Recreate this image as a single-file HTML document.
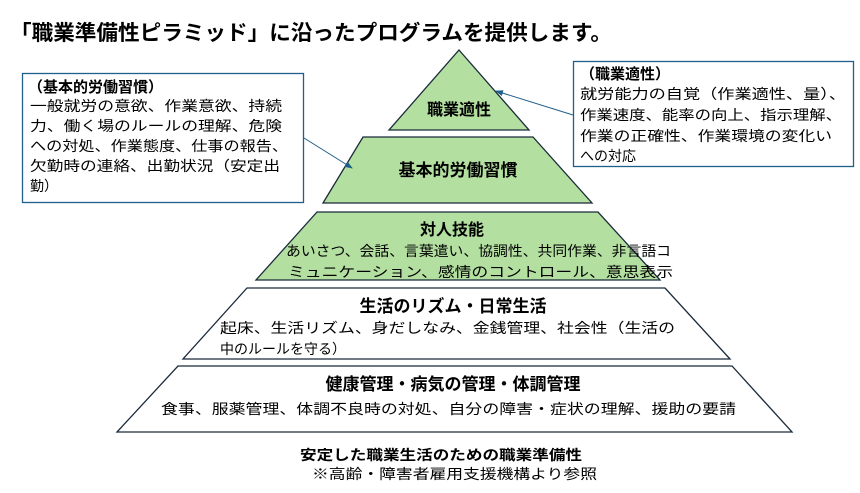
<!DOCTYPE html>
<html><head><meta charset="utf-8"><style>
body{margin:0;background:#fff;width:860px;height:488px;overflow:hidden}
svg text{font-family:"Liberation Sans","Noto Sans CJK JP",sans-serif;fill:#000}
.b{font-weight:bold}
</style></head><body>
<svg width="860" height="488" viewBox="0 0 860 488" xmlns="http://www.w3.org/2000/svg">
<defs><marker id="a" markerWidth="8" markerHeight="8" refX="7" refY="4" orient="auto" markerUnits="userSpaceOnUse"><path d="M0,1 L8,4 L0,7 z" fill="#1f5f8b"/></marker></defs>
<text x="10" y="40" font-size="21" class="b" textLength="602" lengthAdjust="spacingAndGlyphs">「職業準備性ピラミッド」に沿ったプログラムを提供します。</text>

<g stroke="#1a2a3a" stroke-width="1.3">
<polygon points="459,50 529,130 389,130" fill="#b3e0a0"/>
<polygon points="363,137 533,137 592,203 323,203" fill="#b3e0a0"/>
<polygon points="317,212 598,212 660,280 256,280" fill="#b3e0a0"/>
<polygon points="247,288 665,288 730,359 183,359" fill="#fff"/>
<polygon points="178,366 732,366 792,432 117,432" fill="#fff"/>
</g>
<text x="459" y="115" font-size="16" class="b" text-anchor="middle">職業適性</text>
<text x="458" y="176" font-size="17" class="b" text-anchor="middle">基本的労働習慣</text>
<text x="452" y="235" font-size="16" class="b" text-anchor="middle">対人技能</text>
<text x="286" y="256" font-size="14" textLength="385" lengthAdjust="spacingAndGlyphs">あいさつ、会話、言葉遣い、協調性、共同作業、非言語コ</text>
<text x="288" y="277" font-size="14" textLength="385" lengthAdjust="spacingAndGlyphs">ミュニケーション、感情のコントロール、意思表示</text>
<text x="453" y="312" font-size="17" class="b" text-anchor="middle">生活のリズム・日常生活</text>
<text x="220" y="333" font-size="14" textLength="455" lengthAdjust="spacingAndGlyphs">起床、生活リズム、身だしなみ、金銭管理、社会性（生活の</text>
<text x="220" y="354" font-size="14">中のルールを守る）</text>
<text x="453" y="390" font-size="17" class="b" text-anchor="middle">健康管理・病気の管理・体調管理</text>
<text x="161" y="414" font-size="14" textLength="575" lengthAdjust="spacingAndGlyphs">食事、服薬管理、体調不良時の対処、自分の障害・症状の理解、援助の要請</text>

<rect x="22.5" y="73.5" width="281" height="129" fill="#fff" stroke="#1f5f8b" stroke-width="1.3"/>
<text x="28" y="92" font-size="15" class="b">（基本的労働習慣）</text>
<text x="30" y="111" font-size="14" textLength="252" lengthAdjust="spacingAndGlyphs">一般就労の意欲、作業意欲、持続</text>
<text x="30" y="131" font-size="14" textLength="252" lengthAdjust="spacingAndGlyphs">力、働く場のルールの理解、危険</text>
<text x="30" y="151" font-size="14" textLength="258" lengthAdjust="spacingAndGlyphs">への対処、作業態度、仕事の報告、</text>
<text x="30" y="171" font-size="14" textLength="250" lengthAdjust="spacingAndGlyphs">欠勤時の連絡、出勤状況（安定出</text>
<text x="30" y="191" font-size="14">勤）</text>
<line x1="304" y1="138" x2="352" y2="168" stroke="#1f5f8b" stroke-width="1" marker-end="url(#a)"/>

<rect x="573.5" y="61.5" width="280" height="105" fill="#fff" stroke="#1f5f8b" stroke-width="1.3"/>
<text x="580" y="79" font-size="15" class="b">（職業適性）</text>
<text x="580" y="99" font-size="14" textLength="266" lengthAdjust="spacingAndGlyphs">就労能力の自覚（作業適性、量）、</text>
<text x="580" y="120" font-size="14" textLength="262" lengthAdjust="spacingAndGlyphs">作業速度、能率の向上、指示理解、</text>
<text x="580" y="141" font-size="14" textLength="252" lengthAdjust="spacingAndGlyphs">作業の正確性、作業環境の変化い</text>
<text x="580" y="161" font-size="14">への対応</text>
<line x1="573" y1="115" x2="496" y2="91" stroke="#1f5f8b" stroke-width="1" marker-end="url(#a)"/>

<text x="300" y="460" font-size="14" class="b" textLength="282" lengthAdjust="spacingAndGlyphs">安定した職業生活のための職業準備性</text>
<text x="312" y="479" font-size="14" textLength="285" lengthAdjust="spacingAndGlyphs">※高齢・障害者雇用支援機構より参照</text>
</svg>
</body></html>
